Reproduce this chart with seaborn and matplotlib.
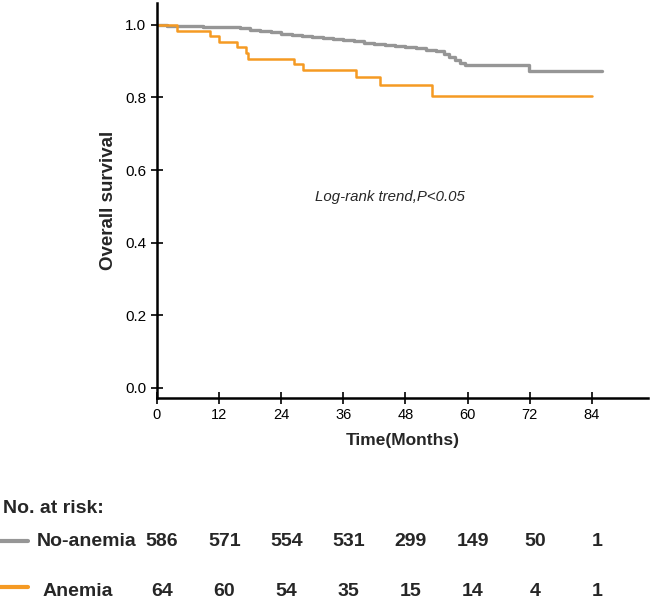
import pandas as pd
import numpy as np
import matplotlib
matplotlib.use('Agg')
import matplotlib.pyplot as plt
import matplotlib.transforms as mtransforms
from matplotlib.lines import Line2D
import seaborn as sns

# Kaplan-Meier steps
no_anemia_time = [0, 2, 5, 9, 13, 16, 18, 20, 22, 24, 26, 28, 30, 32, 34, 36, 38, 40, 42, 44,
                  46, 48, 50, 52, 54, 55.5, 56.5, 57.5, 58.5, 59.5, 71.8, 86]
no_anemia_surv = [1.0, 0.998, 0.996, 0.995, 0.993, 0.991, 0.986, 0.982, 0.979, 0.975, 0.972,
                  0.969, 0.966, 0.963, 0.960, 0.957, 0.954, 0.951, 0.948, 0.945, 0.942, 0.939,
                  0.935, 0.931, 0.927, 0.920, 0.912, 0.903, 0.896, 0.890, 0.873, 0.873]
anemia_time = [0, 3.8, 10.2, 12.0, 15.4, 17.2, 17.6, 26.5, 28.2, 38.5, 43, 53.2, 84]
anemia_surv = [1.0, 0.984, 0.969, 0.953, 0.938, 0.922, 0.906, 0.891, 0.875, 0.855, 0.834, 0.805, 0.805]

# numbers at risk
risk_months = [0, 12, 24, 36, 48, 60, 72, 84]
no_anemia_risk = [586, 571, 554, 531, 299, 149, 50, 1]
anemia_risk = [64, 60, 54, 35, 15, 14, 4, 1]

gray = '#969696'
orange = '#F59A23'

sns.set_style('ticks')
plt.rcParams['font.family'] = ['Liberation Sans', 'DejaVu Sans']

df_no = pd.DataFrame({'time': no_anemia_time, 'surv': no_anemia_surv})
df_an = pd.DataFrame({'time': anemia_time, 'surv': anemia_surv})

fig = plt.figure(figsize=(6.51, 6.0), dpi=100)
ax = fig.add_axes([0.241, 0.337, 0.754, 0.658])

sns.lineplot(data=df_no, x='time', y='surv', ax=ax, color=gray, lw=2.4,
             drawstyle='steps-post', estimator=None, sort=False)
sns.lineplot(data=df_an, x='time', y='surv', ax=ax, color=orange, lw=1.8,
             drawstyle='steps-post', estimator=None, sort=False)

ax.set_xlim(0, 94.8)
ax.set_ylim(-0.027, 1.06)
ax.set_xticks(risk_months)
ax.set_yticks([0.0, 0.2, 0.4, 0.6, 0.8, 1.0])
ax.set_yticklabels(['0.0', '0.2', '0.4', '0.6', '0.8', '1.0'])
ax.tick_params(axis='x', direction='inout', length=8, width=1.2, labelsize=10.5, colors='black')
ax.tick_params(axis='y', direction='inout', length=8, width=1.2, labelsize=11, colors='black')
sns.despine(ax=ax)
for sp in ['left', 'bottom']:
    ax.spines[sp].set_linewidth(1.8)
    ax.spines[sp].set_color('black')

ax.set_xlabel('Time(Months)', fontsize=12.5, fontweight='bold', labelpad=8)
ax.set_ylabel('Overall survival', fontsize=13.5, fontweight='bold', labelpad=6)

ax.text(45, 0.527, 'Log-rank trend,P<0.05', fontsize=10.8, style='italic',
        ha='center', va='center')

# risk table
fig.text(0.005, 0.153, 'No. at risk:', fontsize=14, fontweight='bold', va='center')
fig.add_artist(Line2D([0.0, 0.043], [0.098, 0.098], color=gray, lw=3, transform=fig.transFigure))
fig.add_artist(Line2D([0.0, 0.043], [0.022, 0.022], color=orange, lw=3, transform=fig.transFigure))
fig.text(0.057, 0.098, 'No-anemia', fontsize=14, fontweight='bold', va='center')
fig.text(0.065, 0.015, 'Anemia', fontsize=14, fontweight='bold', va='center')

trans = mtransforms.blended_transform_factory(ax.transData, fig.transFigure)
for m, n in zip(risk_months, no_anemia_risk):
    ax.text(m + 1, 0.098, str(n), transform=trans, fontsize=14, fontweight='bold',
            ha='center', va='center', clip_on=False)
for m, n in zip(risk_months, anemia_risk):
    ax.text(m + 1, 0.015, str(n), transform=trans, fontsize=14, fontweight='bold',
            ha='center', va='center', clip_on=False)

fig.savefig('out.png', dpi=100)
